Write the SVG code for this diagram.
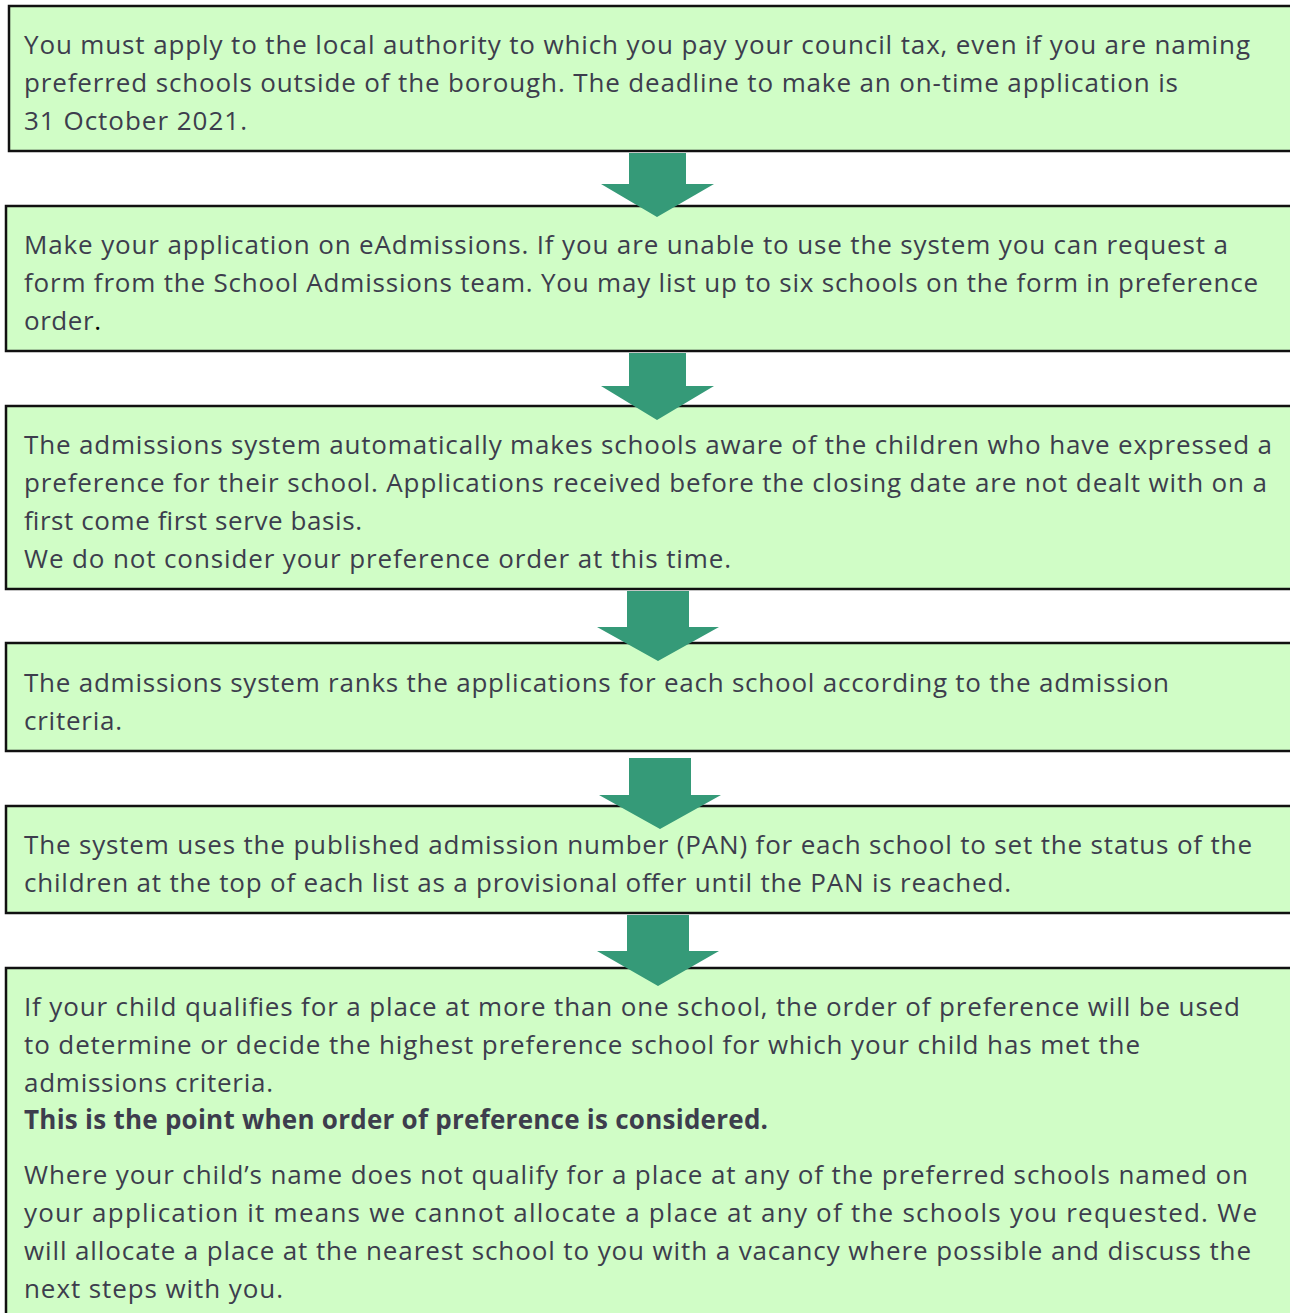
<svg xmlns="http://www.w3.org/2000/svg" width="1290" height="1313" viewBox="0 0 1290 1313">
<style>
.box{fill:#d0fdc6;stroke:#111;stroke-width:2.5}
.t{font-family:"Open Sans","Noto Sans","Liberation Sans",sans-serif;font-size:26px;fill:#3d3d4d}
.b{font-weight:bold}
.arr{fill:#359a78}
</style>
<rect width="1290" height="1313" fill="#fff"/>
<g id="node1">
<rect class="box" x="9" y="6" width="1290" height="145"/>
<text class="t" x="24" y="54" textLength="1226" lengthAdjust="spacing">You must apply to the local authority to which you pay your council tax, even if you are naming</text>
<text class="t" x="24" y="92" textLength="1154" lengthAdjust="spacing">preferred schools outside of the borough. The deadline to make an on-time application is</text>
<text class="t" x="24" y="130" textLength="223" lengthAdjust="spacing">31 October 2021.</text>
</g>
<g id="node2">
<rect class="box" x="6" y="206" width="1290" height="145"/>
<text class="t" x="24" y="254" textLength="1204" lengthAdjust="spacing">Make your application on eAdmissions. If you are unable to use the system you can request a</text>
<text class="t" x="24" y="292" textLength="1234" lengthAdjust="spacing">form from the School Admissions team. You may list up to six schools on the form in preference</text>
<text class="t" x="24" y="330" textLength="77" lengthAdjust="spacing">order<tspan fill="#000">.</tspan></text>
</g>
<g id="node3">
<rect class="box" x="6" y="406" width="1290" height="183"/>
<text class="t" x="24" y="454" textLength="1248" lengthAdjust="spacing">The admissions system automatically makes schools aware of the children who have expressed a</text>
<text class="t" x="24" y="492" textLength="1243" lengthAdjust="spacing">preference for their school. Applications received before the closing date are not dealt with on a</text>
<text class="t" x="24" y="530" textLength="338" lengthAdjust="spacing">first come first serve basis.</text>
<text class="t" x="24" y="568" textLength="707" lengthAdjust="spacing">We do not consider your preference order at this time.</text>
</g>
<g id="node4">
<rect class="box" x="6" y="643" width="1290" height="108"/>
<text class="t" x="24" y="692" textLength="1145" lengthAdjust="spacing">The admissions system ranks the applications for each school according to the admission</text>
<text class="t" x="24" y="730" textLength="98" lengthAdjust="spacing">criteria.</text>
</g>
<g id="node5">
<rect class="box" x="6" y="806" width="1290" height="107"/>
<text class="t" x="24" y="854" textLength="1228" lengthAdjust="spacing">The system uses the published admission number (PAN) for each school to set the status of the</text>
<text class="t" x="24" y="892" textLength="987" lengthAdjust="spacing">children at the top of each list as a provisional offer until the PAN is reached.</text>
</g>
<g id="node6">
<rect class="box" x="6" y="968" width="1290" height="360"/>
<text class="t" x="24" y="1016" textLength="1216" lengthAdjust="spacing">If your child qualifies for a place at more than one school, the order of preference will be used</text>
<text class="t" x="24" y="1054" textLength="1116" lengthAdjust="spacing">to determine or decide the highest preference school for which your child has met the</text>
<text class="t" x="24" y="1092" textLength="249" lengthAdjust="spacing">admissions criteria.</text>
<text class="t b" x="24" y="1129" textLength="744" lengthAdjust="spacing">This is the point when order of preference is considered.</text>
<text class="t" x="24" y="1184" textLength="1224" lengthAdjust="spacing">Where your child’s name does not qualify for a place at any of the preferred schools named on</text>
<text class="t" x="24" y="1222" textLength="1233" lengthAdjust="spacing">your application it means we cannot allocate a place at any of the schools you requested. We</text>
<text class="t" x="24" y="1260" textLength="1227" lengthAdjust="spacing">will allocate a place at the nearest school to you with a vacancy where possible and discuss the</text>
<text class="t" x="24" y="1298" textLength="259" lengthAdjust="spacing">next steps with you.</text>
</g>
<g id="connectors">
<polygon class="arr" points="629,153 686,153 686,184 714,184 657,217 601,184 629,184"/>
<polygon class="arr" points="629,353 686,353 686,386 714,386 657,420 601,386 629,386"/>
<polygon class="arr" points="627,591 689,591 689,627 719,627 658,661 597,627 627,627"/>
<polygon class="arr" points="629,758 691,758 691,795 721,795 660,829 599,795 629,795"/>
<polygon class="arr" points="627,915 689,915 689,951 719,951 658,986 597,951 627,951"/>
</g>
</svg>
